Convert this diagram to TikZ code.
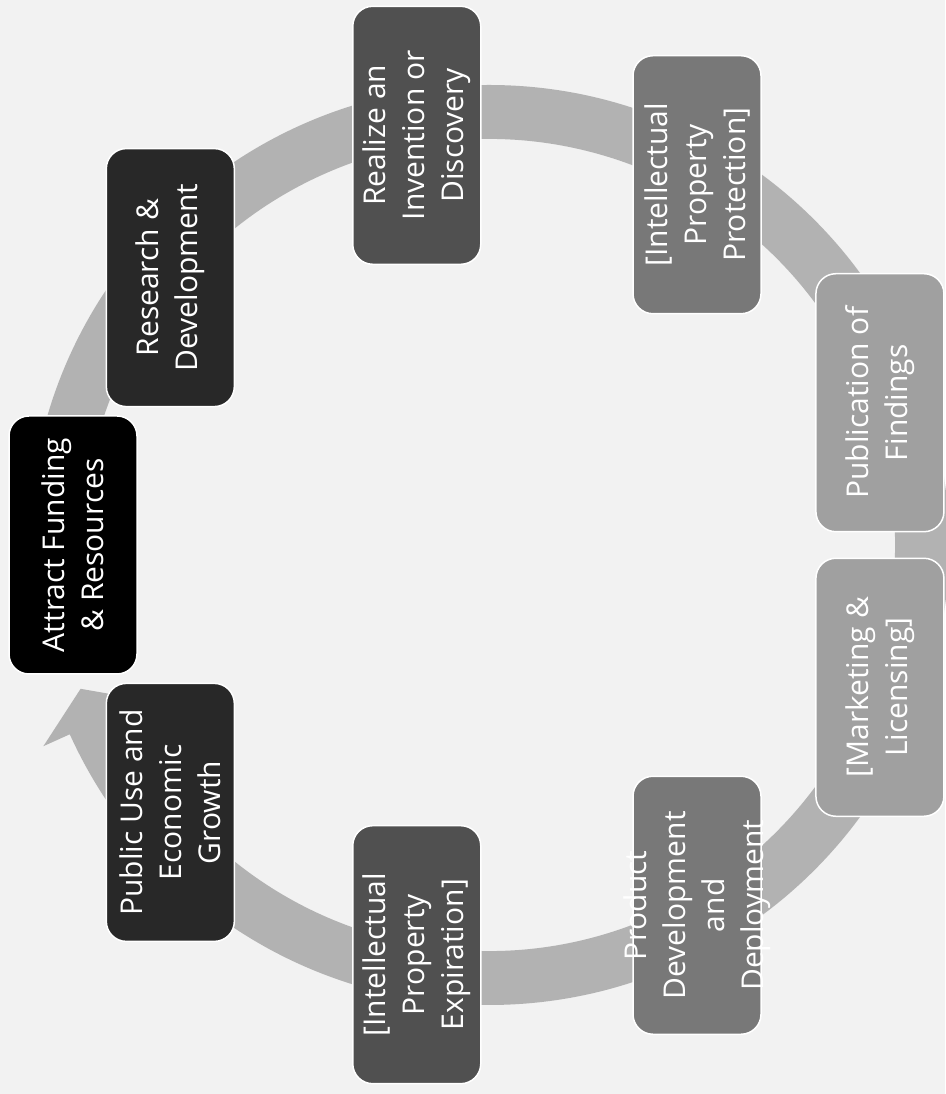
\documentclass[tikz,border=0pt]{standalone}
\usepackage{fontspec}
\setmainfont{Open Sans}
\usetikzlibrary{calc}
\definecolor{bg}{HTML}{F2F2F2}
\definecolor{ringc}{HTML}{B2B2B2}
\definecolor{cA}{HTML}{000000}
\definecolor{cB}{HTML}{282828}
\definecolor{cC}{HTML}{505050}
\definecolor{cD}{HTML}{787878}
\definecolor{cE}{HTML}{A0A0A0}
\begin{document}
\begin{tikzpicture}[x=1pt,y=1pt,
  stagebox/.style={draw=white, line width=1.5pt, rounded corners=20pt,
    minimum width=258pt, minimum height=128pt, rotate=90, inner sep=0pt},
  stagetext/.style={text=white, align=center, rotate=90,
    font=\fontsize{30}{39}\selectfont, inner sep=0pt},
  ringshape/.style={fill=ringc}]
\fill[bg] (0,0) rectangle (945,1094);
\useasboundingbox (0,0) rectangle (945,1094);
\coordinate (C) at (489,549);
% circular arrow
\fill[ringshape] ($(C)+(180:460)$) arc[start angle=180, end angle=-155.7, radius=460]
  -- ($(C)+(-155.7:489)$) -- ($(C)+(-160.6:433)$) -- ($(C)+(-155.7:377)$)
  -- ($(C)+(-155.7:406)$) arc[start angle=-155.7, end angle=180, radius=406] -- cycle;
% stages
\node[stagebox, fill=cA] (s1) at ($(C)+(180:416)$) {};
\node[stagebox, fill=cB] (s2) at ($(C)+(140:416)$) {};
\node[stagebox, fill=cC] (s3) at ($(C)+(100:416)$) {};
\node[stagebox, fill=cD] (s4) at ($(C)+(60:416)$) {};
\node[stagebox, fill=cE] (s5) at ($(C)+(20:416)$) {};
\node[stagebox, fill=cE] (s6) at ($(C)+(-20:416)$) {};
\node[stagebox, fill=cD] (s7) at ($(C)+(-60:416)$) {};
\node[stagebox, fill=cC] (s8) at ($(C)+(-100:416)$) {};
\node[stagebox, fill=cB] (s9) at ($(C)+(-140:416)$) {};
\node[stagetext] (t1) at (s1) {Attract Funding\\\& Resources};
\node[stagetext] (t2) at (s2) {Research \&\\Development};
\node[stagetext] (t3) at (s3) {Realize an\\Invention or\\Discovery};
\node[stagetext] (t4) at (s4) {{[}Intellectual\\Property\\Protection{]}};
\node[stagetext] (t5) at (s5) {Publication of\\Findings};
\node[stagetext] (t6) at (s6) {{[}Marketing \&\\Licensing{]}};
\node[stagetext] (t7) at (s7) {Product\\Development\\and\\Deployment};
\node[stagetext] (t8) at (s8) {{[}Intellectual\\Property\\Expiration{]}};
\node[stagetext] (t9) at (s9) {Public Use and\\Economic\\Growth};
\end{tikzpicture}
\end{document}
